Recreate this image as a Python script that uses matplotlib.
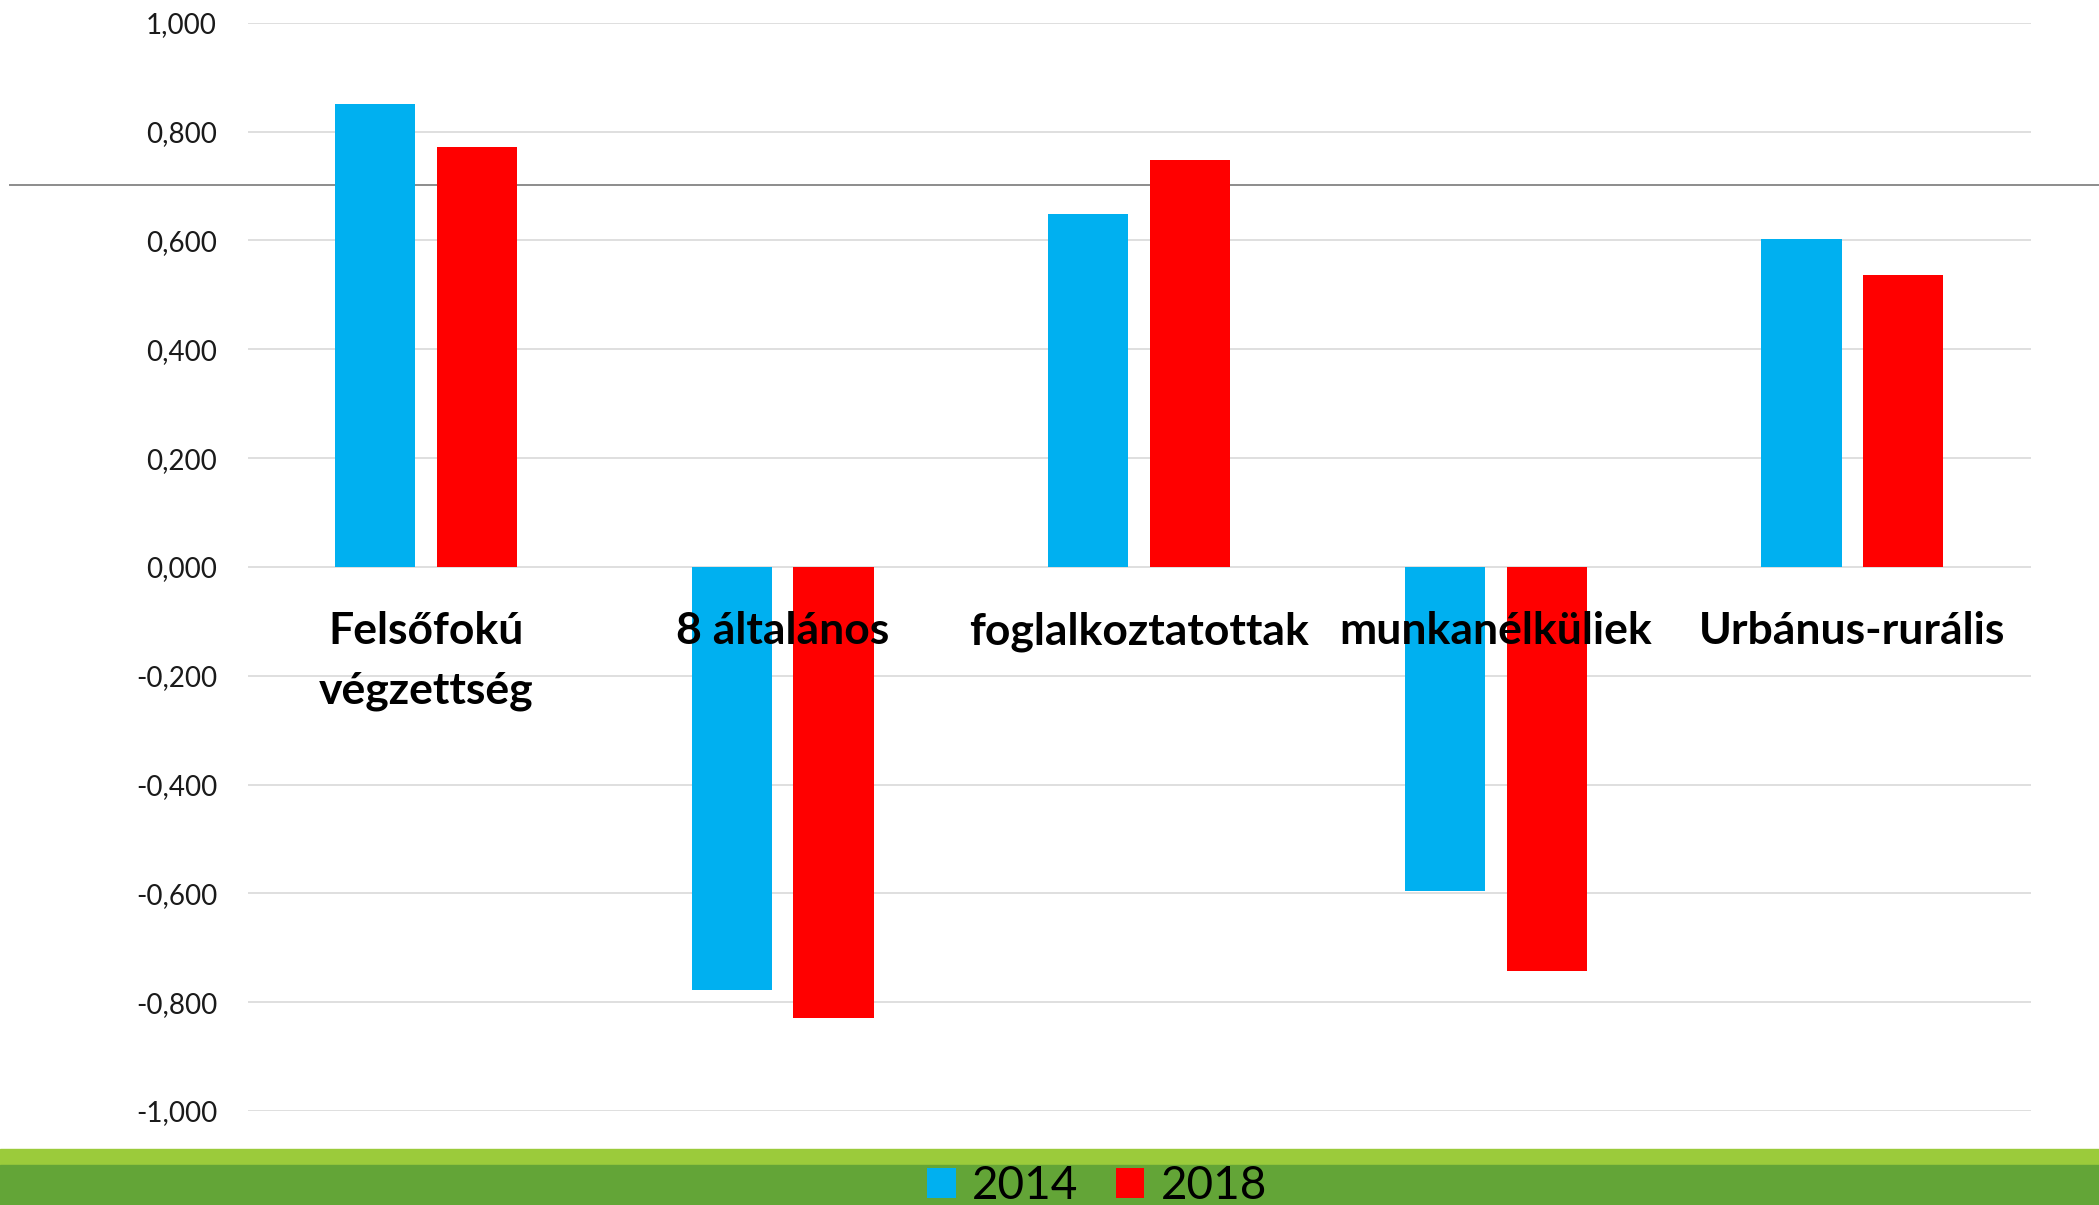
import matplotlib
matplotlib.use("Agg")
import matplotlib.pyplot as plt
import numpy as np
from matplotlib.lines import Line2D
from matplotlib.patches import Rectangle, Patch

categories = ["Felsőfokú\nvégzettség", "8 általános", "foglalkoztatottak",
              "munkanélküliek", "Urbánus-rurális"]
years = ["2014", "2018"]
vals_2014 = [0.851, -0.777, 0.649, -0.595, 0.603]
vals_2018 = [0.772, -0.829, 0.748, -0.743, 0.536]
yticks = np.arange(-1.0, 1.01, 0.2)

c_2014 = "#00B0F0"
c_2018 = "#FF0000"

W, H = 2099, 1205
fig = plt.figure(figsize=(W / 100, H / 100), dpi=100)
fig.patch.set_facecolor("white")

# grey rule across the slide, sits behind the chart
fig.add_artist(Line2D([10 / W, 1], [1 - 185 / H, 1 - 185 / H], color="#8c8c8c",
                      lw=1.4, transform=fig.transFigure, zorder=0))

# green footer bands
fig.add_artist(Rectangle((0, (H - 1165) / H), 1, 16 / H, color="#9BCB3B",
                         transform=fig.transFigure, zorder=1))
fig.add_artist(Rectangle((0, 0), 1, (H - 1165) / H, color="#63A537",
                         transform=fig.transFigure, zorder=1))

ax = fig.add_axes([247.6 / W, (H - 1111) / H, (2030.7 - 247.6) / W, (1111 - 22.8) / H])
ax.set_facecolor("none")
ax.set_zorder(2)

x = np.arange(len(categories))
bw = 0.225
off = 0.1426
ax.bar(x - off, vals_2014, bw, color=c_2014, zorder=3)
ax.bar(x + off, vals_2018, bw, color=c_2018, zorder=3)

ax.set_xlim(-0.5, len(categories) - 0.5)
ax.set_ylim(-1.0, 1.0)
ax.set_yticks(yticks)
ax.set_yticklabels([f"{v:.3f}".replace(".", ",").replace("-0,000", "0,000") for v in yticks],
                   fontsize=20, family="Lato", color="#1a1a1a")
ax.tick_params(axis="y", length=0, pad=22)
ax.set_xticks([])
ax.grid(axis="y", color="#d9d9d9", lw=1.2, zorder=1)
for s in ax.spines.values():
    s.set_visible(False)

# category labels under the zero line
for i, lab in enumerate(categories):
    for j, line in enumerate(lab.split("\n")):
        ax.text(i, -0.142 - 0.109 * j, line, ha="center", va="baseline",
                fontsize=32, fontweight="bold", family="Lato", color="black", zorder=5)

handles = [Patch(facecolor=c_2014), Patch(facecolor=c_2018)]
fig.legend(handles, years, loc="center", bbox_to_anchor=(1097 / W, 19 / H), ncol=2,
           frameon=False, prop={"family": "Lato", "size": 33},
           handlelength=0.62, handleheight=0.65, handletextpad=0.35, columnspacing=0.83,
           borderpad=0, borderaxespad=0)

fig.savefig("out.png", dpi=100)
